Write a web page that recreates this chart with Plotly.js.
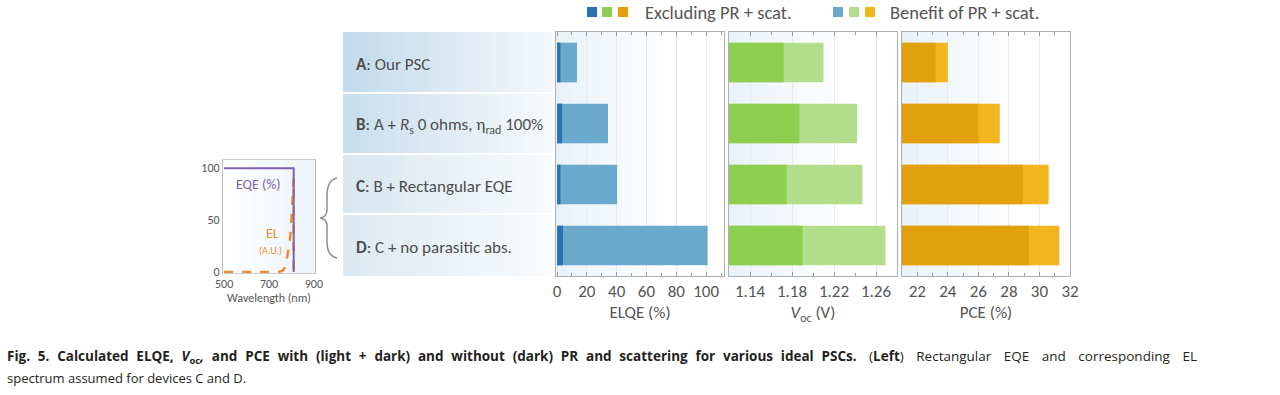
<!DOCTYPE html>
<html>
<head>
<meta charset="utf-8">
<script src="https://cdn.plot.ly/plotly-3.0.1.min.js"></script>
<style>html,body{margin:0;padding:0;background:#fff;}#chart{width:1280px;height:395px;}</style>
</head>
<body>
<div id="chart"></div>
<script>
// ---------------- data ----------------
const categories = ['A', 'B', 'C', 'D'];
const rowLabels = [
  '<b>A</b>: Our PSC',
  '<b>B</b>: A + <i>R</i><sub>s</sub> 0 ohms, η<sub>rad</sub> 100%',
  '<b>C</b>: B + Rectangular EQE',
  '<b>D</b>: C + no parasitic abs.'
];
const elqeExcl  = [2.3, 3.4, 2.3, 4.0];
const elqeTotal = [13.4, 34.2, 40.3, 101.0];
const vocExcl   = [1.172, 1.187, 1.175, 1.190];
const vocTotal  = [1.210, 1.242, 1.247, 1.269];
const pceExcl   = [23.2, 26.0, 28.9, 29.3];
const pceTotal  = [24.0, 27.4, 30.6, 31.3];

const eqeWl  = [500, 810, 810];
const eqeVal = [100, 100, 0];
const elWl   = [500, 740, 760, 774, 786, 795, 801, 805, 808, 810, 810];
const elVal  = [0, 0, 1, 5, 21, 35, 53, 70, 85, 90, 0];

const legendLabels = ['Excluding PR + scat.', 'Benefit of PR + scat.'];
const axisTitles = ['ELQE (%)', '<i>V</i><sub>oc</sub> (V)', 'PCE (%)'];
const captionBold = '<b>Fig. 5. Calculated ELQE, <i>V</i><sub>oc</sub><i>,</i> and PCE with (light + dark) and without (dark) PR and scattering for various ideal PSCs.</b>';
const captionRest = ' (<b>Left</b>) Rectangular EQE and corresponding EL';
const captionLine2 = 'spectrum assumed for devices C and D.';

// ---------------- style ----------------
const W = 1280, H = 395;
const px = v => v / W;
const py = v => 1 - v / H;
const FONT = 'Carlito, Lato, sans-serif';
const CAP = 'Open Sans, Liberation Sans, sans-serif';
const TXT = '#555555';
const darkCols  = ['#2c72b0', '#8ecf50', '#e0a10c'];
const lightCols = ['#6ba9cc', '#b2de8b', '#f2b51d'];

const yTop = 32, yBot = 276;
const panels = [[556, 724], [729, 897], [902, 1070]];

const traces = [];
const sets = [[elqeExcl, elqeTotal], [vocExcl, vocTotal], [pceExcl, pceTotal]];
sets.forEach((s, i) => {
  const xa = i === 0 ? 'x' : 'x' + (i + 1);
  const ya = i === 0 ? 'y' : 'y' + (i + 1);
  traces.push({type: 'bar', orientation: 'h', y: categories, x: s[1], xaxis: xa, yaxis: ya,
    width: 0.65, marker: {color: lightCols[i], line: {width: 0}}, showlegend: false, hoverinfo: 'x'});
  traces.push({type: 'bar', orientation: 'h', y: categories, x: s[0], xaxis: xa, yaxis: ya,
    width: 0.65, marker: {color: darkCols[i], line: {width: 0}}, showlegend: false, hoverinfo: 'x'});
});
traces.push({type: 'scatter', mode: 'lines', x: elWl, y: elVal, xaxis: 'x4', yaxis: 'y4',
  line: {color: '#f08a24', width: 2.5, dash: 'dash'}, showlegend: false});
traces.push({type: 'scatter', mode: 'lines', x: eqeWl, y: eqeVal, xaxis: 'x4', yaxis: 'y4',
  line: {color: '#7f62b0', width: 2}, showlegend: false});

function xAxis(i, range, tick0, dtick, minor, fmt) {
  return {
    domain: [px(panels[i][0]), px(panels[i][1])], range: range, anchor: i === 0 ? 'y' : 'y' + (i + 1),
    tick0: tick0, dtick: dtick, tickformat: fmt,
    ticks: 'inside', ticklen: 4, tickcolor: '#9a9a9a',
    minor: {dtick: minor, ticks: 'inside', ticklen: 3, tickcolor: '#9a9a9a', showgrid: false},
    showline: true, linecolor: '#b0b0b0', linewidth: 1, mirror: 'allticks',
    showgrid: true, gridcolor: '#e4eaf1', zeroline: false,
    tickfont: {family: FONT, size: 17, color: TXT},
    title: {text: axisTitles[i], font: {family: FONT, size: 17, color: TXT}, standoff: 4},
    fixedrange: true
  };
}
function yAxis(i) {
  return {
    domain: [py(yBot), py(yTop)], anchor: i === 0 ? 'x' : 'x' + (i + 1),
    type: 'category', categoryorder: 'array', categoryarray: categories,
    range: [3.5, -0.5], showticklabels: false, ticks: '',
    showline: true, linecolor: '#b0b0b0', linewidth: 1, mirror: true,
    showgrid: false, zeroline: false, fixedrange: true
  };
}

const shapes = [];
function grad(x0, x1, y0, y1, c0, c1, n) {
  const h2r = h => [1, 3, 5].map(k => parseInt(h.substr(k, 2), 16));
  const a = h2r(c0), b = h2r(c1);
  for (let k = 0; k < n; k++) {
    const t = k / (n - 1);
    const c = a.map((v, j) => Math.round(v + (b[j] - v) * t));
    shapes.push({type: 'rect', xref: 'paper', yref: 'paper', layer: 'below',
      x0: px(x0 + (x1 - x0) * k / n), x1: px(x0 + (x1 - x0) * (k + 1) / n + 0.5),
      y0: py(y1), y1: py(y0), line: {width: 0}, fillcolor: 'rgb(' + c.join(',') + ')'});
  }
}
// row-label backgrounds
const rowBands = [[32, 92, '#c4dbeb', '#f3f7fb'], [94, 153, '#c9deed', '#f6f9fc'],
                  [155, 213, '#d8e7f1', '#f8fafc'], [215, 276, '#dce9f2', '#f9fbfd']];
rowBands.forEach(r => grad(343, 552, r[0], r[1], r[2], r[3], 24));
// panel backgrounds
panels.forEach(p => grad(p[0], p[0] + (p[1] - p[0]) * 0.7, yTop, yBot, '#eaf2f9', '#ffffff', 16));
// inset background
grad(223, 315, 160, 273, '#ffffff', '#edf3f9', 12);

// legend squares
const sq1 = [587, 602, 618], sq2 = [833, 849, 865];
sq1.forEach((x, k) => shapes.push({type: 'rect', xref: 'paper', yref: 'paper', x0: px(x), x1: px(x + 10),
  y0: py(17), y1: py(7), line: {width: 0}, fillcolor: darkCols[k]}));
sq2.forEach((x, k) => shapes.push({type: 'rect', xref: 'paper', yref: 'paper', x0: px(x), x1: px(x + 10),
  y0: py(17), y1: py(7), line: {width: 0}, fillcolor: lightCols[k]}));

// brace
const bp = [[337, 178], [327, 180], [327, 196], [327, 210], [327, 217], [320, 218], [327, 219], [327, 226], [327, 242], [327, 256], [337, 258]];
const P = p => px(p[0]).toFixed(5) + ',' + py(p[1]).toFixed(5);
const bracePath = 'M' + P(bp[0]) + ' Q' + P(bp[1]) + ' ' + P(bp[2]) + ' L' + P(bp[3]) +
  ' Q' + P(bp[4]) + ' ' + P(bp[5]) + ' Q' + P(bp[6]) + ' ' + P(bp[7]) + ' L' + P(bp[8]) +
  ' Q' + P(bp[9]) + ' ' + P(bp[10]);
shapes.push({type: 'path', xref: 'paper', yref: 'paper', path: bracePath, line: {color: '#8a8f96', width: 1.5}});

const annotations = [];
categories.forEach((c, i) => annotations.push({xref: 'paper', yref: 'y', x: px(354), y: c,
  xanchor: 'left', yanchor: 'middle', showarrow: false, text: rowLabels[i], yshift: -2,
  font: {family: FONT, size: 17, color: '#4d4d4d'}}));
annotations.push({xref: 'paper', yref: 'paper', x: px(643), y: py(12), xanchor: 'left', yanchor: 'middle',
  showarrow: false, text: legendLabels[0], font: {family: FONT, size: 18.5, color: TXT}});
annotations.push({xref: 'paper', yref: 'paper', x: px(888), y: py(12), xanchor: 'left', yanchor: 'middle',
  showarrow: false, text: legendLabels[1], font: {family: FONT, size: 18.5, color: TXT}});
annotations.push({xref: 'paper', yref: 'paper', x: px(258), y: py(184), xanchor: 'center', yanchor: 'middle',
  showarrow: false, text: 'EQE (%)', font: {family: FONT, size: 14, color: '#7f62b0'}});
annotations.push({xref: 'paper', yref: 'paper', x: px(272), y: py(233), xanchor: 'center', yanchor: 'middle',
  showarrow: false, text: 'EL', font: {family: FONT, size: 14, color: '#f08a24'}});
annotations.push({xref: 'paper', yref: 'paper', x: px(270), y: py(250), xanchor: 'center', yanchor: 'middle',
  showarrow: false, text: '(A.U.)', font: {family: FONT, size: 10, color: '#f08a24'}});
annotations.push({xref: 'paper', yref: 'paper', x: px(5), y: py(357), xanchor: 'left', yanchor: 'middle', align: 'left',
  showarrow: false,
  text: '<span style="word-spacing:4.3px">' + captionBold + '</span><span style="word-spacing:9px">' + captionRest + '</span>',
  font: {family: CAP, size: 13.5, color: '#231f20'}});
annotations.push({xref: 'paper', yref: 'paper', x: px(5), y: py(378), xanchor: 'left', yanchor: 'middle', align: 'left',
  showarrow: false, text: captionLine2,
  font: {family: CAP, size: 13, color: '#231f20'}});

const layout = {
  width: W, height: H, margin: {l: 0, r: 0, t: 0, b: 0},
  paper_bgcolor: '#ffffff', plot_bgcolor: 'rgba(0,0,0,0)',
  barmode: 'overlay', bargap: 0.35, showlegend: false,
  xaxis: xAxis(0, [-0.7, 112], 0, 20, 10, ''),
  xaxis2: xAxis(1, [1.12, 1.28], 1.14, 0.04, 0.02, '.2f'),
  xaxis3: xAxis(2, [21, 32], 22, 2, 1, ''),
  yaxis: yAxis(0), yaxis2: yAxis(1), yaxis3: yAxis(2),
  xaxis4: {domain: [px(223), px(315)], range: [495, 905], anchor: 'y4', tickvals: [500, 700, 900],
    ticks: '', showline: true, linecolor: '#c8ccd2', mirror: true, showgrid: false, zeroline: false,
    tickfont: {family: FONT, size: 12, color: TXT},
    title: {text: 'Wavelength (nm)', font: {family: FONT, size: 12, color: TXT}, standoff: 1}, fixedrange: true},
  yaxis4: {domain: [py(273), py(160)], range: [-1, 108], anchor: 'x4', tickvals: [0, 50, 100],
    ticks: '', showline: true, linecolor: '#b8bcc2', mirror: true, showgrid: false, zeroline: false,
    tickfont: {family: FONT, size: 12, color: TXT}, fixedrange: true},
  shapes: shapes, annotations: annotations
};

Plotly.newPlot('chart', traces, layout, {displayModeBar: false, staticPlot: true});
</script>
</body>
</html>
